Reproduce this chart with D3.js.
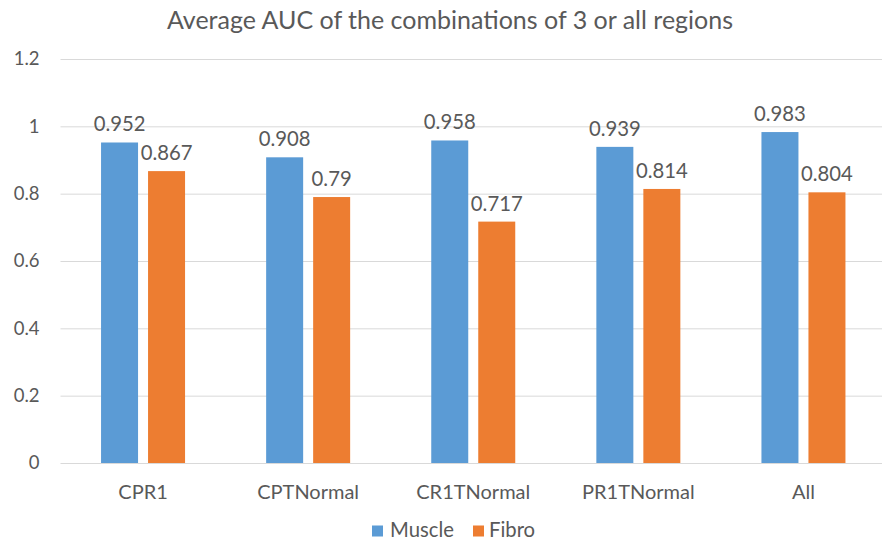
<!DOCTYPE html>
<html>
<head>
<meta charset="utf-8">
<script src="https://cdn.jsdelivr.net/npm/d3@7"></script>
<style>
  html, body { margin: 0; padding: 0; background: #fff; }
  svg text { font-family: Lato, "Open Sans", sans-serif; fill: #595959; }
</style>
</head>
<body>
<svg id="chart" width="882" height="541"></svg>
<script>
// Average AUC per region combination
const categories = ["CPR1", "CPTNormal", "CR1TNormal", "PR1TNormal", "All"];
const seriesNames = ["Muscle", "Fibro"];
const muscle = [0.952, 0.908, 0.958, 0.939, 0.983];
const fibro = [0.867, 0.79, 0.717, 0.814, 0.804];
const yTicks = [0, 0.2, 0.4, 0.6, 0.8, 1, 1.2];
const colors = ["#5B9BD5", "#ED7D31"];

const svg = d3.select("#chart");
const plot = { left: 60.5, right: 886, top: 59, bottom: 463 };

const x = d3.scaleBand().domain(categories).range([plot.left, plot.right]).paddingInner(0).paddingOuter(0);
const y = d3.scaleLinear().domain([0, 1.2]).range([plot.bottom, plot.top]);
const barW = 37, barGap = 10;
const groupW = barW * 2 + barGap;

// title
svg.append("text")
  .attr("x", 450).attr("y", 29)
  .attr("text-anchor", "middle")
  .attr("font-size", 25)
  .text("Average AUC of the combinations of 3 or all regions");

// gridlines + tick labels
const yAxis = d3.axisLeft(y).tickValues(yTicks).tickSize(-(plot.right - plot.left)).tickFormat(d3.format("~g"));
const gy = svg.append("g").attr("transform", `translate(${plot.left},0)`).call(yAxis);
gy.select(".domain").remove();
gy.selectAll(".tick line").attr("stroke", "#D9D9D9").attr("stroke-width", 1);
gy.selectAll(".tick text").attr("x", -21).attr("font-size", 18.5).attr("fill", "#595959")
  .attr("font-family", "Lato, sans-serif");

// bars
const rows = categories.map((c, i) => ({ cat: c, vals: [muscle[i], fibro[i]] }));
const groups = svg.append("g").selectAll("g").data(rows).join("g")
  .attr("transform", d => `translate(${x(d.cat) + (x.bandwidth() - groupW) / 2},0)`);

groups.selectAll("rect").data(d => d.vals.map((v, k) => ({ v, k }))).join("rect")
  .attr("x", d => d.k * (barW + barGap))
  .attr("width", barW)
  .attr("y", d => y(d.v))
  .attr("height", d => y(0) - y(d.v))
  .attr("fill", d => colors[d.k]);

groups.selectAll("text.lbl").data(d => d.vals.map((v, k) => ({ v, k }))).join("text")
  .attr("class", "lbl")
  .attr("x", d => d.k * (barW + barGap) + barW / 2)
  .attr("y", d => y(d.v) - 11)
  .attr("text-anchor", "middle")
  .attr("font-size", 20.3)
  .text(d => d3.format("~g")(d.v));

// category axis labels
const xAxis = d3.axisBottom(x).tickSize(0).tickPadding(0);
const gx = svg.append("g").attr("transform", `translate(0,${plot.bottom})`).call(xAxis);
gx.select(".domain").attr("stroke", "#D9D9D9");
gx.selectAll(".tick text").attr("y", 36).attr("dy", 0).attr("font-size", 20)
  .attr("fill", "#595959").attr("font-family", "Lato, sans-serif");

// legend
const legend = svg.append("g");
const legendItems = [{ name: seriesNames[0], x: 372, tx: 390 }, { name: seriesNames[1], x: 473, tx: 489 }];
legendItems.forEach((it, k) => {
  legend.append("rect").attr("x", it.x).attr("y", 525.5).attr("width", 11).attr("height", 11).attr("fill", colors[k]);
  legend.append("text").attr("x", it.tx).attr("y", 537).attr("font-size", 20.3).text(it.name);
});
</script>
</body>
</html>
